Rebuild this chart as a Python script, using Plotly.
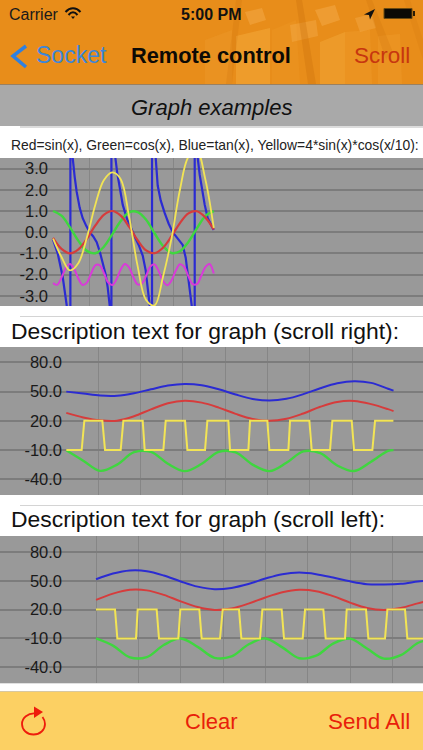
import plotly.graph_objects as go

W = 423
H = 750

# graph 1
g1_ticks = [3, 2, 1, 0, -1, -2, -3]
g1_x = [1.5, 3.5, 5.5, 7.5, 9.5, 11.5, 13.5, 15.5, 17.5, 19.5, 21.5, 23.5, 25.5, 27.5, 29.5, 31.5, 33.5, 35.5, 37.5, 39.5]
g1_red = [-0.27, -0.79, -1.0, -0.81, -0.31, 0.32, 0.82, 1.0, 0.78, 0.25, -0.38, -0.86, -0.99, -0.73, -0.19, 0.43, 0.89, 0.99, 0.70, 0.13]
g1_green = [1.0, 0.78, 0.23, -0.41, -0.88, -0.99, -0.69, -0.10, 0.53, 0.94, 0.95, 0.59, -0.05, -0.65, -0.98, -0.90, -0.46, 0.18, 0.76, 0.99]
g1_yellow = [-0.3, -1.17, -1.8, -1.45, -0.25, 1.3, 2.45, 2.82, 2.5, 0.7, -1.6, -3.2, -3.45, -2.1, -0.3, 2.0, 3.55, 3.85, 2.5, 0.2]
g1_blue_x = [1.42, 2.6, 3.78, 4.73, 5.2, 5.6, 5.6, 6.15, 6.62, 7.09, 7.8, 8.51, 9.34, 10.17, 11.0, 11.82, 12.53, 13.24, 13.95, 14.42, 14.89, 15.13, 15.3,
             15.3, 16.24, 16.67, 17.26, 17.97, 18.91, 20.09, 20.8, 21.75, 22.7, 23.4, 23.88, 24.35, 24.7, 24.9,
             24.9, 25.77, 26.24, 26.95, 27.9, 28.84, 29.79, 30.97, 32.15, 32.86, 33.33, 33.8, 34.28, 34.75, 34.99,
             34.99, 35.7, 36.17, 36.64, 37.35, 38.06, 38.77, 39.48]
g1_blue = [-0.3, -1.0, -2.1, -3.45, -8, -40, 40, 3.5, 2.6, 1.9, 1.15, 0.66, 0.3, 0, -0.2, -0.47, -0.9, -1.4, -2.0, -2.6, -3.45, -6, -40,
           40, 3.5, 2.8, 2.1, 1.3, 0.67, 0.1, -0.2, -0.6, -1.1, -1.8, -2.6, -3.45, -7, -40,
           40, 3.5, 2.2, 1.5, 0.9, 0.4, 0, -0.3, -0.6, -1.2, -1.9, -2.6, -3.45, -7, -40,
           40, 3.5, 2.7, 2.1, 1.3, 0.67, 0.35, 0.1]
g1_magenta_x = [1.5, 2.5, 3.5, 4.5, 5.5, 6.5, 7.5, 8.5, 9.5, 10.5, 11.5, 12.5, 13.5, 14.5, 15.5, 16.5, 17.5, 18.5, 19.5, 20.5,
                21.5, 22.5, 23.5, 24.5, 25.5, 26.5, 27.5, 28.5, 29.5, 30.5, 31.5, 32.5, 33.5, 34.5, 35.5, 36.5, 37.5, 38.5, 39.5]
g1_magenta = [-2.40, -2.48, -2.14, -1.69, -1.50, -1.74, -2.19, -2.49, -2.38, -1.94, -1.56, -1.55, -1.91, -2.36, -2.49, -2.22, -1.76, -1.50, -1.67, -2.13,
              -2.46, -2.42, -2.05, -1.62, -1.52, -1.85, -2.30, -2.50, -2.28, -1.82, -1.51, -1.63, -2.08, -2.45, -2.45, -2.08, -1.65, -1.50, -1.95]

# graph 2 (scroll right)
g_ticks = [80, 50, 20, -10, -40]
g2_x = [2.5, 6.5, 10.5, 14.5, 18.5, 22.5, 26.5, 30.5, 34.5, 38.5, 42.5, 46.5, 50.5, 54.5, 58.5, 62.5, 66.5, 70.5, 74.5, 78.5, 79.8]
g2_blue = [50, 48, 45.9, 45.7, 48.3, 52.4, 56.2, 57.9, 56.6, 52.4, 47, 42.5, 40.8, 42.6, 47.4, 53.5, 58.5, 60.7, 59, 53, 51]
g2_red = [28.2, 23.5, 20.5, 20.2, 24.7, 31.8, 38.1, 40.6, 38.7, 33.6, 27.2, 22, 20, 22.1, 27.6, 34.4, 39.4, 40.4, 37.2, 32, 30]
g2_green = [-10.2, -20.9, -31.3, -24.9, -12.2, -11.9, -24, -31.6, -24.1, -11.9, -12.4, -24.9, -31.6, -23, -11.3, -13.2, -25.8, -31.5, -22, -10.8, -10]
g2_yellow_x = [2.51, 6.13, 6.76, 11.02, 11.65, 15.35, 15.98, 20.55, 21.02, 25.43, 25.98, 30.55, 31.1, 35.27, 35.82, 40.78, 41.18,
               45.51, 45.9, 50.0, 50.47, 54.96, 55.35, 59.92, 60.47, 64.8, 65.35, 69.92, 70.47, 74.8, 75.43, 79.77]
g2_yellow = [-10, -10, 20, 20, -10, -10, 20, 20, -10, -10, 20, 20, -10, -10, 20, 20, -10,
             -10, 20, 20, -10, -10, 20, 20, -10, -10, 20, 20, -10, -10, 20, 20]

# graph 3 (scroll left)
g3_x = [10, 14, 18, 22, 26, 30, 34, 38, 42, 46, 50, 54, 58, 62, 66, 70, 74, 78, 82, 86, 88]
g3_blue = [51.6, 57.5, 60.7, 60, 55.5, 49.3, 43.9, 41.2, 42.6, 46.6, 52.3, 56.9, 58.5, 56.9, 53.4, 49.4, 46.5, 46.2, 46.8, 49.3, 50.2]
g3_red = [30.1, 36.6, 40.6, 40, 35.3, 28.6, 22.7, 19.7, 21.2, 26.2, 32.6, 38, 40.7, 39.2, 34, 27.3, 21.7, 19.7, 21.8, 26.5, 28.7]
g3_green = [-10, -17.5, -29.7, -29.4, -16.9, -10, -18.8, -30.2, -28.8, -16.3, -10, -19.3, -30.6, -28, -15.4, -10.2, -20.4, -31, -27.3, -14.8, -12]
g3_yellow_x = [9.99, 14.48, 15.03, 19.44, 19.83, 24.32, 24.87, 29.44, 29.91, 34.4, 34.95, 39.29, 39.92, 43.77, 44.33, 48.74, 49.29,
               53.85, 54.4, 58.82, 59.37, 63.7, 64.25, 68.82, 69.21, 73.78, 74.33, 78.27, 78.82, 82.99, 83.54, 87.32]
g3_yellow = [20, 20, -10, -10, 20, 20, -10, -10, 20, 20, -10, -10, 20, 20, -10, -10, 20,
             20, -10, -10, 20, 20, -10, -10, 20, 20, -10, -10, 20, 20, -10, -10]

RED = "#d63c3c"
GREEN = "#3fd63f"
BLUE = "#2b2bd2"
YELLOW = "#f2e455"
MAGENTA = "#d93ad9"
FONT = "Liberation Sans"


def px(x):
    return x / W


def py(y):
    return 1 - y / H


def pt(p):
    return f"{px(p[0]):.5f},{py(p[1]):.5f}"


def poly(points):
    return "M" + " L".join(pt(p) for p in points) + " Z"


def line(points):
    return "M" + " L".join(pt(p) for p in points)


def curve(p0, *segments):
    out = "M" + pt(p0)
    for c1, c2, p1 in segments:
        out += f" C{pt(c1)} {pt(c2)} {pt(p1)}"
    return out


def rect(x0, y0, x1, y1, color):
    return dict(type="rect", xref="paper", yref="paper", x0=px(x0), x1=px(x1), y0=py(y0), y1=py(y1),
                fillcolor=color, line_width=0, layer="below")


def fill(points, color):
    return dict(type="path", xref="paper", yref="paper", path=poly(points), fillcolor=color, line_width=0, layer="below")


def stroke(path, color, width):
    return dict(type="path", xref="paper", yref="paper", path=path, line=dict(color=color, width=width), layer="above")


def text(x, y, s, size, color, anchor="left", bold=False, italic=False):
    if bold:
        s = f"<b>{s}</b>"
    if italic:
        s = f"<i>{s}</i>"
    return dict(x=px(x), y=py(y), xref="paper", yref="paper", text=s, showarrow=False, xanchor=anchor, yanchor="middle",
                borderpad=0, font=dict(family=FONT, size=size, color=color))


fig = go.Figure()


def add(x, y, color, axis, width=2.0, smooth=True):
    shape = "spline" if smooth else "linear"
    fig.add_trace(go.Scatter(x=x, y=y, mode="lines", xaxis="x" + axis, yaxis="y" + axis,
                             line=dict(color=color, width=width, shape=shape), showlegend=False, hoverinfo="skip"))


add(g1_blue_x, g1_blue, BLUE, "", 2.2, smooth=False)
add(g1_x, g1_green, GREEN, "", 2.4)
add(g1_x, g1_red, RED, "", 2.2)
add(g1_magenta_x, g1_magenta, MAGENTA, "", 2.0)
add(g1_x, g1_yellow, YELLOW, "", 1.8)

add(g2_x, g2_blue, BLUE, "2")
add(g2_x, g2_red, RED, "2")
add(g2_x, g2_green, GREEN, "2", 2.4)
add(g2_yellow_x, g2_yellow, YELLOW, "2", 2.0, smooth=False)

add(g3_x, g3_blue, BLUE, "3")
add(g3_x, g3_red, RED, "3")
add(g3_x, g3_green, GREEN, "3", 2.4)
add(g3_yellow_x, g3_yellow, YELLOW, "3", 2.0, smooth=False)


def xaxis(rng, ticks, anchor):
    return dict(domain=[0, 1], range=rng, tickvals=ticks, showticklabels=False, ticks="", showgrid=True,
                gridcolor="#868686", gridwidth=1, zeroline=False, showline=False, anchor=anchor, fixedrange=True)


def yaxis(rng, ticks, top, bottom, pos):
    return dict(domain=[py(bottom), py(top)], range=rng, tickvals=ticks, ticktext=[f"{t:.1f}" for t in ticks],
                tickfont=dict(family=FONT, size=16.5, color="#1a1a1a"), ticks="", showgrid=True, gridcolor="#7c7c7c",
                gridwidth=1.5, zeroline=False, showline=False, anchor="free", position=pos, fixedrange=True)


shapes = [
    rect(0, 0, W, 84, "#e88d1a"),
    rect(0, 84, W, 85, "#9a8060"),
    rect(0, 85, W, 126, "#a9a9a9"),
    rect(20, 126, W, 128, "#dcdcdc"),
    rect(20, 316, W, 317, "#d4d4d4"),
    rect(20, 505, W, 506, "#d4d4d4"),
    rect(0, 691, W, 692, "#d8c8a0"),
    rect(0, 692, W, H, "#fcd063"),
    # circuit board look behind the nav bar
    fill([(205, 40), (232, 30), (232, 84), (205, 84)], "rgba(240,160,50,0.3)"),
    fill([(236, 36), (270, 28), (270, 84), (236, 84)], "rgba(246,176,64,0.45)"),
    fill([(272, 30), (296, 20), (300, 84), (272, 84)], "rgba(238,150,36,0.45)"),
    fill([(320, 42), (345, 32), (345, 84), (320, 84)], "rgba(246,176,64,0.4)"),
    fill([(345, 32), (370, 30), (372, 84), (345, 84)], "rgba(240,160,50,0.35)"),
    fill([(378, 36), (400, 34), (402, 84), (378, 84)], "rgba(240,160,50,0.35)"),
    fill([(245, 12), (262, 8), (266, 20), (250, 25)], "rgba(246,176,80,0.45)"),
    fill([(315, 10), (335, 5), (340, 20), (322, 26)], "rgba(246,176,80,0.45)"),
    fill([(290, 25), (316, 20), (318, 36), (292, 42)], "rgba(246,176,80,0.4)"),
    fill([(355, 18), (372, 14), (376, 28), (360, 32)], "rgba(246,176,80,0.4)"),
    fill([(296, 0), (302, 0), (316, 84), (308, 84)], "rgba(200,110,10,0.3)"),
    fill([(236, 0), (242, 0), (232, 84), (226, 84)], "rgba(200,110,10,0.2)"),
    fill([(404, 0), (410, 0), (423, 40), (423, 60)], "rgba(200,110,10,0.15)"),
    fill([(366, 0), (372, 0), (392, 50), (386, 60)], "rgba(200,110,10,0.2)"),
    # status bar icons
    fill([(375, 9), (370, 19.5), (369, 15), (364, 14.5)], "#111111"),
    dict(type="rect", xref="paper", yref="paper", x0=px(384), x1=px(412), y0=py(8.5), y1=py(18.5),
         fillcolor="#0c0a05", line=dict(color="#6b4a10", width=1), layer="above"),
    rect(413, 11, 415, 16, "#2a1c05"),
    stroke(curve((65.5, 12), ((70, 7), (76, 7), (80.5, 12))), "#111111", 2),
    stroke(curve((68.5, 15), ((71.5, 11.5), (74.5, 11.5), (77.5, 15))), "#111111", 2),
    fill([(73, 19), (71, 16.5), (75, 16.5)], "#111111"),
    # back chevron
    stroke(line([(26, 46), (13, 56), (26, 67)]), "#2f80e0", 3.5),
    # refresh icon
    stroke(curve((35, 713.5),
                 ((28, 713), (22, 718), (22, 724)),
                 ((22, 730), (27, 734.5), (33.5, 734.5)),
                 ((40, 734.5), (45, 730), (45, 724)),
                 ((45, 721.5), (44, 719), (42.5, 717))), "#ee1c0c", 1.8),
    fill([(34, 706.5), (43, 712), (34, 718)], "#ee1c0c"),
]

annotations = [
    text(8, 14, "Carrier", 16, "#1a1a1a"),
    text(211, 14, "5:00 PM", 16, "#111111", "center", bold=True),
    text(34.5, 55.5, "Socket", 23, "#3d86d8"),
    text(211, 55.5, "Remote control", 21.8, "#0d0a05", "center", bold=True),
    text(410.5, 55.5, "Scroll", 22.5, "#c7360f", "right"),
    text(211, 107, "Graph examples", 22, "#111111", "center", italic=True),
    text(10, 145, "Red=sin(x), Green=cos(x), Blue=tan(x), Yellow=4*sin(x)*cos(x/10):", 13.9, "#222222"),
    text(10, 331, "Description text for graph (scroll right):", 22.9, "#111111"),
    text(10, 519, "Description text for graph (scroll left):", 22.9, "#111111"),
    text(211, 721, "Clear", 22, "#e8200a", "center"),
    text(411, 721, "Send All", 22.4, "#e8200a", "right"),
]

fig.update_layout(
    width=W,
    height=H,
    margin=dict(l=0, r=0, t=0, b=0),
    paper_bgcolor="white",
    plot_bgcolor="#999999",
    showlegend=False,
    shapes=shapes,
    annotations=annotations,
    xaxis=xaxis([-11.04, 88.96], [10, 20, 30], "y"),
    yaxis=yaxis([-3.48, 3.5], g1_ticks, 158, 306, 48 / W),
    xaxis2=xaxis([-13.16, 86.76], [10, 20, 30, 40, 50, 60, 70], "y2"),
    yaxis2=yaxis([-56.1, 95.8], g_ticks, 347, 495, 62 / W),
    xaxis3=xaxis([-12.69, 87.24], [10, 20, 30, 40, 50, 60, 70, 80], "y3"),
    yaxis3=yaxis([-56.7, 96.6], g_ticks, 536, 683.3, 62 / W),
)

fig.write_html("out.html", config=dict(displayModeBar=False), post_script="document.body.style.margin='0';")
